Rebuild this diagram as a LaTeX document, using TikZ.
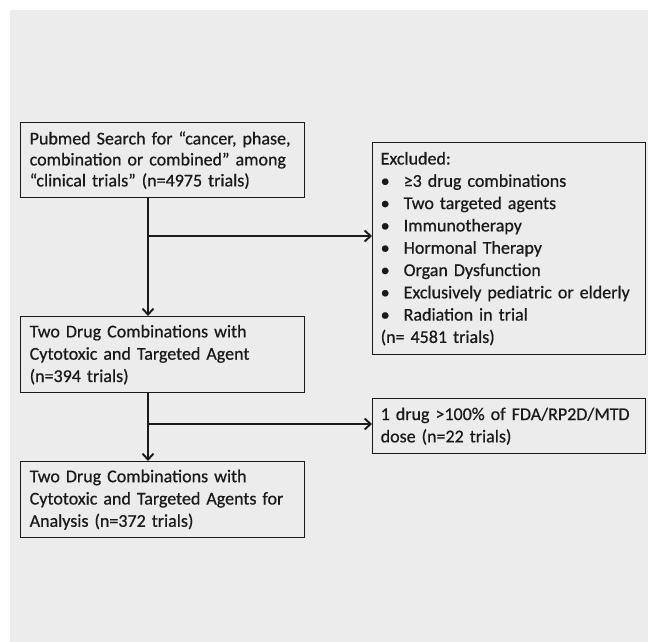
\documentclass[tikz,border=0pt]{standalone}
\usepackage{fontspec}
\setmainfont{Carlito}[FakeBold=0.6,BoldFont=Carlito]
\usetikzlibrary{arrows.meta}
\definecolor{bg}{HTML}{ECECEC}
\definecolor{ink}{HTML}{1A1A1A}
\newcommand{\bul}{\makebox[23pt][l]{\textbullet}}
\begin{document}
\begin{tikzpicture}[x=1pt,y=-1pt,
  box/.style={draw=ink, line width=1.4pt, fill=bg, inner xsep=9pt, inner ysep=0pt,
    align=left, anchor=north west, text=ink, font=\fontsize{18}{22.3}\selectfont\bfseries},
  conn/.style={draw=ink, line width=1.9pt, -{Straight Barb[length=6pt,width=11pt]}}]
\useasboundingbox (0,0) rectangle (648,642);
\fill[white] (0,0) rectangle (648,642);
\fill[bg] (10,10) rectangle (648,642);
\node[box, text width=266pt, minimum height=75pt, font=\fontsize{18}{21}\selectfont\bfseries] (b1) at (20,122)
  {Pubmed Search for “cancer, phase,\\combination or combined” among\\“clinical trials” (n=4975 trials)};
\node[box, text width=266pt, minimum height=76pt] (b2) at (20,316)
  {Two Drug Combinations with\\Cytotoxic and Targeted Agent\\(n=394 trials)};
\node[box, text width=266pt, minimum height=76pt] (b3) at (20,461)
  {Two Drug Combinations with\\Cytotoxic and Targeted Agents for\\Analysis (n=372 trials)};
\node[box, inner xsep=8pt, text width=257pt, minimum height=212pt] (ex) at (372,142)
  {Excluded:\\\bul ≥3 drug combinations\\\bul Two targeted agents\\\bul Immunotherapy\\\bul Hormonal Therapy\\\bul Organ Dysfunction\\\bul Exclusively pediatric or elderly\\\bul Radiation in trial\\(n= 4581 trials)};
\node[box, inner xsep=8pt, text width=257pt, minimum height=55pt] (dose) at (372,398)
  {1 drug >100\% of FDA/RP2D/MTD\\dose (n=22 trials)};
\coordinate (v) at (148,0);
\coordinate (j1) at (148,236);
\coordinate (j2) at (148,424);
\draw[conn] (b1.south -| v) -- (b2.north -| v);
\draw[conn] (b2.south -| v) -- (b3.north -| v);
\draw[conn] (j1) -- (j1 -| ex.west);
\draw[conn] (j2) -- (j2 -| dose.west);
\end{tikzpicture}
\end{document}
